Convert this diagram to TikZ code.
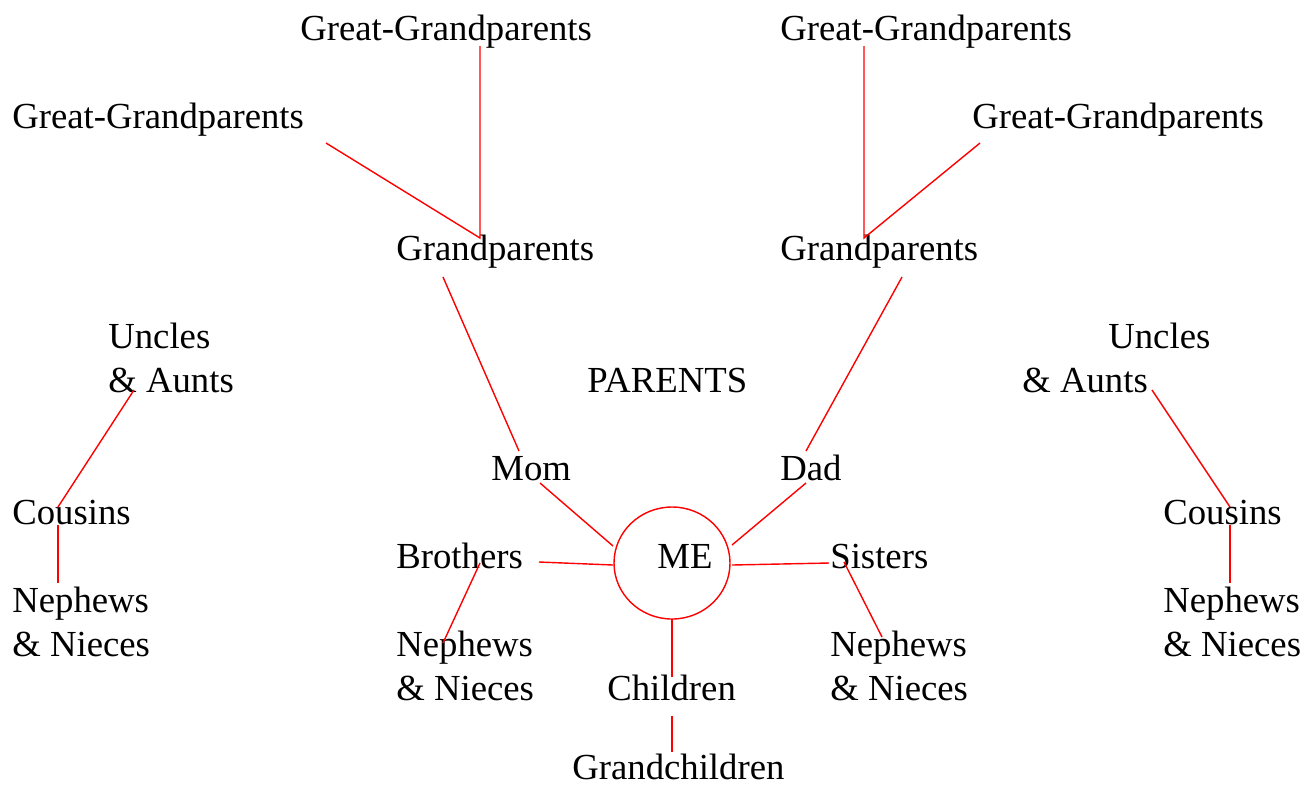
\documentclass[tikz,border=0pt]{standalone}
\usepackage{fontspec}
\setmainfont{Liberation Serif}
\usepackage{tikz}
\usetikzlibrary{calc}
\definecolor{linkred}{rgb}{1,0,0}

\begin{document}
\begin{tikzpicture}[x=0.02cm, y=-0.02cm,
    lbl/.style={anchor=base west, inner sep=0pt, font=\fontsize{20.9}{25}\selectfont},
    link/.style={draw=linkred, line width=0.8pt}]
    \useasboundingbox (0,0) rectangle (1304,789);
    % Labels, top rows
    \node[lbl] (ggA) at (300,40) {Great-Grandparents};
    \node[lbl] (ggB) at (780,40) {Great-Grandparents};
    \node[lbl] (ggC) at (12,128) {Great-Grandparents};
    \node[lbl] (ggD) at (972,128) {Great-Grandparents};
    \node[lbl] (gpL) at (396,260) {Grandparents};
    \node[lbl] (gpR) at (780,260) {Grandparents};
    % Uncles and aunts
    \node[lbl] (unL) at (108,348) {Uncles};
    \node[lbl] (auL) at (108,392) {\& Aunts};
    \node[lbl] (unR) at (1108,348) {Uncles};
    \node[lbl] (auR) at (1022,392) {\& Aunts};
    \node[lbl] (par) at (587,392) {PARENTS};
    \node[lbl] (mom) at (491,480) {Mom};
    \node[lbl] (dad) at (780,480) {Dad};
    % Middle row
    \node[lbl] (coL) at (12,524) {Cousins};
    \node[lbl] (coR) at (1163,524) {Cousins};
    \node[lbl] (bro) at (396,568) {Brothers};
    \node[lbl] (me)  at (657,568) {ME};
    \node[lbl] (sis) at (830,568) {Sisters};
    % Nephews and nieces
    \node[lbl] (neA) at (12,612) {Nephews};
    \node[lbl] (niA) at (12,656) {\& Nieces};
    \node[lbl] (neB) at (396,656) {Nephews};
    \node[lbl] (niB) at (396,700) {\& Nieces};
    \node[lbl] (neC) at (830,656) {Nephews};
    \node[lbl] (niC) at (830,700) {\& Nieces};
    \node[lbl] (neD) at (1163,612) {Nephews};
    \node[lbl] (niD) at (1163,656) {\& Nieces};
    \node[lbl] (chi) at (607,700) {Children};
    \node[lbl] (gch) at (572,779) {Grandchildren};
    % Circle round ME
    \coordinate (C) at (672,563);
    \draw[link] (C) ellipse [x radius=58, y radius=56];
    % Define end points
    \coordinate (ggA1) at (480,46);
    \coordinate (ggC1) at (326,143);
    \coordinate (gpL1) at (480,238);
    \coordinate (ggB1) at (864,46);
    \coordinate (ggD1) at (980,143);
    \coordinate (gpR1) at (864,238);
    \coordinate (gpL2) at (443,277);
    \coordinate (mom1) at (519,451);
    \coordinate (gpR2) at (902,277);
    \coordinate (dad1) at (806,451);
    \coordinate (mom2) at (540,483);
    \coordinate (meA) at (613,546);
    \coordinate (dad2) at (806,483);
    \coordinate (meB) at (732,545);
    \coordinate (bro1) at (539,562);
    \coordinate (meC) at (613,565);
    \coordinate (sis1) at (829,563);
    \coordinate (meD) at (732,565);
    \coordinate (bro2) at (480,563);
    \coordinate (neB1) at (443,643);
    \coordinate (sis2) at (844,562);
    \coordinate (neC1) at (882,637);
    \coordinate (meE) at (672,619);
    \coordinate (chi1) at (672,677);
    \coordinate (chi2) at (672,716);
    \coordinate (gch1) at (672,752);
    \coordinate (auL1) at (134,390);
    \coordinate (coL1) at (58,507);
    \coordinate (coL2) at (58,525);
    \coordinate (neA1) at (58,583);
    \coordinate (auR1) at (1152,390);
    \coordinate (coR1) at (1230,507);
    \coordinate (coR2) at (1230,525);
    \coordinate (neD1) at (1230,583);
    % Connectors
    \draw[link] (ggA1) -- (gpL1) -- (ggC1);
    \draw[link] (ggB1) -- (gpR1) -- (ggD1);
    \draw[link] (gpL2) -- (mom1);
    \draw[link] (gpR2) -- (dad1);
    \draw[link] (mom2) -- (meA);
    \draw[link] (dad2) -- (meB);
    \draw[link] (bro1) -- (meC);
    \draw[link] (sis1) -- (meD);
    \draw[link] (bro2) -- (neB1);
    \draw[link] (sis2) -- (neC1);
    \draw[link] (meE) -- (chi1);
    \draw[link] (chi2) -- (gch1);
    \draw[link] (auL1) -- (coL1);
    \draw[link] (coL2) -- (neA1);
    \draw[link] (auR1) -- (coR1);
    \draw[link] (coR2) -- (neD1);
\end{tikzpicture}
\end{document}
